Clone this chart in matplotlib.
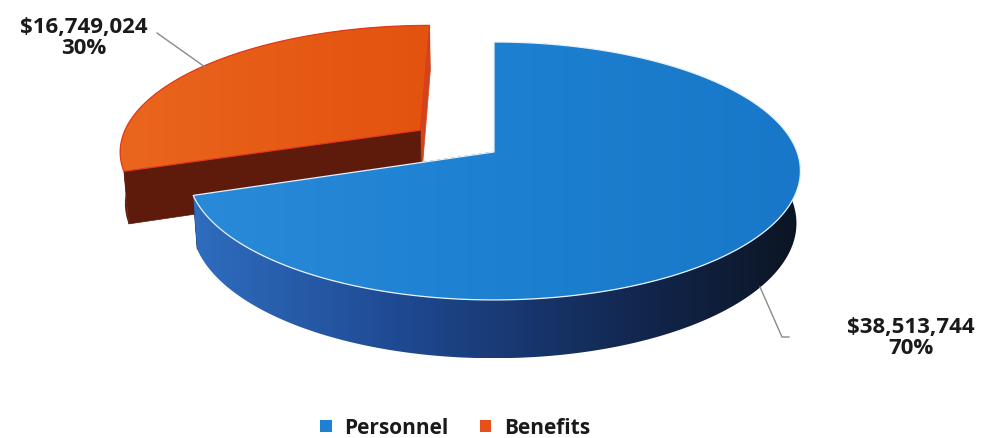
import numpy as np
import matplotlib
matplotlib.use("Agg")
import matplotlib.pyplot as plt
from matplotlib.patches import Polygon, Patch
from matplotlib.colors import LinearSegmentedColormap

# ---- data ----
categories = ["Personnel", "Benefits"]
values = [38513744, 16749024]
explode = [0.0, 0.306]

# ---- styles ----
top_colors = [["#2A8ADA", "#1D80D0", "#1877C8"], ["#EA661E", "#E65B15", "#E2530F"]]
side_colors = [["#2F6DBF", "#1F4A93", "#142C5A", "#0B1422"], ["#6A1F0E", "#561709"]]
# cut faces in order (start angle face, end angle face)
cut_colors = [["#0E1E38", "#0E1E38"], ["#D0451C", "#5E1A0B"]]
edge_colors = ["#E8F2FA", "#E23A1A"]
legend_colors = ["#1F7FD0", "#E8501A"]

W, H = 985, 438
fig = plt.figure(figsize=(W / 100, H / 100), dpi=100)
ax = fig.add_axes([0, 0, 1, 1])

# projection parameters
phi = np.deg2rad(24.6)
D = 6.18
f = 1873.0
cx, cy = 494.0, 152.0
h = 0.19
cam = np.array([0.0, -D * np.cos(phi), D * np.sin(phi)])


def proj(x, y, z):
    x = np.asarray(x, float); y = np.asarray(y, float); z = np.asarray(z, float)
    yc = y * np.sin(phi) + z * np.cos(phi)
    d = D + y * np.cos(phi) - z * np.sin(phi)
    return np.column_stack([cx + f * x / d, cy - f * yc / d])


def grad_fill(verts, colors, zorder):
    poly = Polygon(verts, closed=True, facecolor="none", edgecolor="none", zorder=zorder)
    ax.add_patch(poly)
    xs, ys = verts[:, 0], verts[:, 1]
    cmap = LinearSegmentedColormap.from_list("g", colors)
    img = np.linspace(0, 1, 256).reshape(1, -1)
    im = ax.imshow(img, cmap=cmap, extent=(xs.min(), xs.max(), ys.max(), ys.min()),
                   aspect="auto", zorder=zorder, interpolation="bilinear")
    im.set_clip_path(poly)


total = sum(values)
fracs = [v / total for v in values]
# Personnel goes clockwise from 12 o'clock
starts = []
a = 90.0
for fr in fracs:
    starts.append(a)
    a -= fr * 360.0

order = [1, 0]  # draw back slice first
for k, i in enumerate(order):
    a_hi = starts[i]
    a_lo = starts[i] - fracs[i] * 360.0
    mid = np.deg2rad((a_hi + a_lo) / 2)
    ox, oy = explode[i] * np.cos(mid), explode[i] * np.sin(mid)
    th = np.deg2rad(np.linspace(a_lo, a_hi, 300))
    rx, ry = ox + np.cos(th), oy + np.sin(th)
    zbase = 10 * k
    # cut faces: hidden ones below the rim side, visible ones above it
    for j, ang in enumerate((a_lo, a_hi)):
        t = np.deg2rad(ang)
        n = np.array([np.sin(t), -np.cos(t), 0.0]) * (1 if j == 0 else -1)
        p = np.array([ox + 0.5 * np.cos(t), oy + 0.5 * np.sin(t), -h / 2])
        visible = np.dot(n, cam - p) > 1e-6
        px = [ox, ox + np.cos(t), ox + np.cos(t), ox]
        py = [oy, oy + np.sin(t), oy + np.sin(t), oy]
        pz = [0, 0, -h, -h]
        q = proj(px, py, pz)
        ax.add_patch(Polygon(q, closed=True, facecolor=cut_colors[i][j],
                             edgecolor=cut_colors[i][j], lw=0.5,
                             zorder=zbase + (2.5 if visible else 1)))
    # rim side
    top_rim = proj(rx, ry, np.zeros_like(rx))
    bot_rim = proj(rx, ry, -h * np.ones_like(rx))
    side = np.vstack([top_rim, bot_rim[::-1]])
    grad_fill(side, side_colors[i], zbase + 2)
    # top face
    ctr = proj([ox], [oy], [0])
    topv = np.vstack([ctr, top_rim])
    grad_fill(topv, top_colors[i], zbase + 3)
    ax.add_patch(Polygon(topv, closed=True, facecolor="none",
                         edgecolor=edge_colors[i], lw=0.9, zorder=zbase + 4))

# labels
fam = ["Open Sans", "DejaVu Sans"]
lab = {
    0: dict(xy=(911, 338), line=[(760, 287), (782, 337), (789, 337)]),
    1: dict(xy=(84, 38), line=[(157, 33), (205, 67)]),
}
for i in range(len(values)):
    txt = f"${values[i]:,}\n{round(fracs[i] * 100)}%"
    ax.text(*lab[i]["xy"], txt, ha="center", va="center", fontsize=16,
            fontweight="bold", family=fam, color="#1a1a1a", linespacing=1.0, zorder=50)
    ln = np.array(lab[i]["line"])
    ax.plot(ln[:, 0], ln[:, 1], color="#8a8a8a", lw=1, zorder=49)

handles = [Patch(facecolor=legend_colors[i], edgecolor="none", label=categories[i])
           for i in range(len(values))]
leg = ax.legend(handles=handles, loc="center", bbox_to_anchor=(455 / W, 1 - 428 / H),
                ncol=2, frameon=False, handlelength=0.55, handleheight=0.55,
                handletextpad=0.6, columnspacing=1.5,
                prop=dict(family=fam, weight="bold", size=15))
for t in leg.get_texts():
    t.set_color("#1a1a1a")

ax.set_xlim(0, W)
ax.set_ylim(H, 0)
ax.axis("off")
fig.savefig("out.png", dpi=100)
